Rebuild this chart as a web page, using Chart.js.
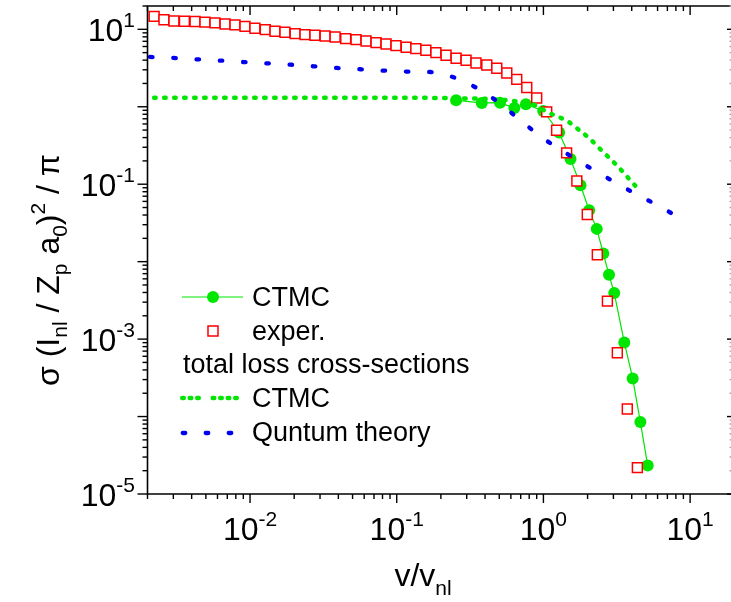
<!DOCTYPE html>
<html>
<head>
<meta charset="utf-8">
<script src="https://cdn.jsdelivr.net/npm/chart.js@4.4.0/dist/chart.umd.min.js"></script>
<style>
  body { margin: 0; background: #fff; }
  canvas { display: block; }
</style>
</head>
<body>
<canvas id="chart" width="731" height="602"></canvas>
<script>
// experimental points (open squares)
const experX = [0.00222, 0.00259, 0.00303, 0.00357, 0.00422, 0.00493, 0.00577, 0.00676, 0.00790, 0.00924,
  0.0108, 0.0127, 0.0148, 0.0173, 0.0203, 0.0237, 0.0277, 0.0325, 0.0380, 0.0449,
  0.0528, 0.0618, 0.0723, 0.0846, 0.0989, 0.116, 0.135, 0.158, 0.185, 0.217,
  0.254, 0.297, 0.347, 0.411, 0.481, 0.563, 0.658, 0.770, 0.900, 1.053,
  1.23, 1.44, 1.69, 1.99, 2.33, 2.73, 3.19, 3.73, 4.37];
const experY = [14.7, 13.3, 12.8, 12.7, 12.6, 12.4, 12.1, 11.7, 11.4, 10.9,
  10.3, 9.9, 9.42, 9.15, 8.81, 8.55, 8.37, 8.20, 7.96, 7.59,
  7.36, 7.06, 6.73, 6.45, 6.16, 5.86, 5.64, 5.36, 5.00, 4.62,
  4.23, 3.98, 3.67, 3.46, 3.14, 2.73, 2.26, 1.77, 1.30, 0.858,
  0.498, 0.254, 0.110, 0.0407, 0.0123, 0.00309, 0.000666, 0.000125, 0.0000219];

// CTMC (circles + thin line)
const ctmcX = [0.254, 0.380, 0.506, 0.634, 0.760, 0.997, 1.28, 1.53, 1.79, 2.05, 2.31, 2.56, 2.80, 3.04, 3.56, 4.06, 4.58, 5.14];
const ctmcY = [1.21, 1.12, 1.13, 0.964, 1.08, 0.883, 0.465, 0.212, 0.0970, 0.0461, 0.0265, 0.01274, 0.00676, 0.00393, 0.000906, 0.000311, 0.0000849, 0.0000234];

// total loss cross-sections, CTMC (green dots)
const totalX = [0.00222, 0.01, 0.1, 0.3, 0.5, 0.7, 0.9, 1.05, 1.27, 1.48, 1.73, 2.03, 2.37, 2.77, 3.24, 3.79, 4.37];
const totalY = [1.31, 1.31, 1.31, 1.28, 1.24, 1.15, 1.03, 0.86, 0.74, 0.64, 0.51, 0.40, 0.30, 0.225, 0.167, 0.120, 0.0895];

// total loss cross-sections, quantum theory (blue dots)
const quantX = [0.00208, 0.00300, 0.00433, 0.00625, 0.00900, 0.0130, 0.0188, 0.0270, 0.0390, 0.0562, 0.0811, 0.117,
  0.169, 0.241, 0.347, 0.500, 0.722, 1.04, 1.50, 2.17, 3.13, 4.51, 6.50, 9.37];
const quantY = [4.40, 4.27, 4.10, 3.95, 3.78, 3.64, 3.50, 3.33, 3.17, 3.05, 2.93, 2.84,
  2.81, 2.42, 1.77, 1.12, 0.631, 0.370, 0.237, 0.155, 0.104, 0.0707, 0.0494, 0.0321];

// tick label exponents
const xTickExp = [-2, -1, 0, 1];
const yTickExp = [1, -1, -3, -5];

const GREEN = '#00e600';
const RED = '#ff0000';
const BLUE = '#0000ee';
const FONT = '"Liberation Sans", Arial, sans-serif';

function pts(xs, ys) {
  return xs.map((v, i) => ({ x: v, y: ys[i] }));
}

// draws text made of pieces [text, size, dy]
function drawRich(ctx, parts, x, y, align) {
  let w = 0;
  parts.forEach(p => {
    ctx.font = p[1] + 'px ' + FONT;
    w += ctx.measureText(p[0]).width;
  });
  let cx = align === 'right' ? x - w : (align === 'center' ? x - w / 2 : x);
  ctx.textAlign = 'left';
  ctx.textBaseline = 'alphabetic';
  parts.forEach(p => {
    ctx.font = p[1] + 'px ' + FONT;
    ctx.fillText(p[0], cx, y + (p[2] || 0));
    cx += ctx.measureText(p[0]).width;
  });
}

function dots(ctx, xs, y, color, len, width) {
  ctx.strokeStyle = color;
  ctx.lineWidth = width;
  ctx.lineCap = 'round';
  xs.forEach(px => {
    ctx.beginPath();
    ctx.moveTo(px - len / 2, y);
    ctx.lineTo(px + len / 2, y);
    ctx.stroke();
  });
}

const frame = {
  id: 'frame',
  afterDraw(chart) {
    const { ctx, chartArea: a, scales: { x, y } } = chart;
    ctx.save();
    ctx.strokeStyle = '#000';
    ctx.lineWidth = 1.6;
    ctx.lineCap = 'butt';
    ctx.beginPath();
    ctx.moveTo(a.right + 2, a.top);
    ctx.lineTo(a.left, a.top);
    ctx.lineTo(a.left, a.bottom);
    ctx.lineTo(a.right + 2, a.bottom);
    ctx.stroke();

    // x ticks: outward at bottom, inward at top
    ctx.lineWidth = 1.4;
    for (let e = -3; e <= 1; e++) {
      for (let m = 1; m <= 9; m++) {
        const v = m * Math.pow(10, e);
        if (v < x.min * 0.999 || v > x.max) continue;
        const px = x.getPixelForValue(v);
        const len = m === 1 ? 9 : 5;
        ctx.beginPath();
        ctx.moveTo(px, a.bottom);
        ctx.lineTo(px, a.bottom + len);
        ctx.moveTo(px, a.top);
        ctx.lineTo(px, a.top + len);
        ctx.stroke();
      }
    }
    // y ticks: outward at left, inward at right
    for (let e = -5; e <= 1; e++) {
      for (let m = 1; m <= 9; m++) {
        const v = m * Math.pow(10, e);
        if (v < y.min * 0.999 || v > y.max * 1.001) continue;
        const py = y.getPixelForValue(v);
        ctx.strokeStyle = '#000';
        ctx.beginPath();
        ctx.moveTo(a.left, py);
        ctx.lineTo(a.left - (m === 1 ? 10 : 5), py);
        ctx.stroke();
        ctx.strokeStyle = m === 1 ? '#000' : '#aaa';
        ctx.beginPath();
        ctx.moveTo(731, py);
        ctx.lineTo(731 - (m === 1 ? 4 : 1.5), py);
        ctx.stroke();
      }
    }

    // tick labels
    ctx.fillStyle = '#000';
    xTickExp.forEach(e => {
      drawRich(ctx, [['10', 32, 0], [String(e), 21, -14]], x.getPixelForValue(Math.pow(10, e)), 540, 'center');
    });
    yTickExp.forEach(e => {
      drawRich(ctx, [['10', 32, 0], [String(e), 21, -14]], 135, y.getPixelForValue(Math.pow(10, e)) + 11.5, 'right');
    });

    // axis titles
    drawRich(ctx, [['v/v', 32, 0], ['nl', 21, 9]], 423, 586, 'center');
    ctx.save();
    ctx.translate(59, 270);
    ctx.rotate(-Math.PI / 2);
    drawRich(ctx, [['\u03c3 (I', 32, 0], ['nl', 21, 8], [' / Z', 32, 0], ['p', 21, 8], [' a', 32, 0], ['0', 21, 8],
      [')', 32, 0], ['2', 21, -14], [' / \u03c0', 32, 0]], 0, 0, 'center');
    ctx.restore();

    // legend
    ctx.strokeStyle = GREEN;
    ctx.lineWidth = 1.2;
    ctx.beginPath();
    ctx.moveTo(182, 297);
    ctx.lineTo(243, 297);
    ctx.stroke();
    ctx.fillStyle = GREEN;
    ctx.beginPath();
    ctx.arc(213, 297, 6, 0, Math.PI * 2);
    ctx.fill();

    ctx.fillStyle = '#fff';
    ctx.fillRect(208, 326, 10, 10);
    ctx.strokeStyle = RED;
    ctx.lineWidth = 1.5;
    ctx.strokeRect(208, 326, 10, 10);

    dots(ctx, [183, 190.5, 198, 213.5, 221, 228.5, 236], 398, GREEN, 1.5, 4.5);
    dots(ctx, [184, 207, 230], 433, BLUE, 2.5, 4.3);

    ctx.fillStyle = '#000';
    ctx.font = '27px ' + FONT;
    ctx.textAlign = 'left';
    ctx.fillText('CTMC', 252, 306);
    ctx.fillText('exper.', 252, 340);
    ctx.fillText('total loss cross-sections', 183, 373);
    ctx.fillText('CTMC', 252, 407);
    ctx.fillText('Quntum theory', 252, 441);
    ctx.restore();
  }
};

new Chart(document.getElementById('chart'), {
  type: 'line',
  data: {
    datasets: [
      {
        label: 'Quntum theory',
        data: pts(quantX, quantY),
        borderColor: BLUE,
        borderWidth: 4.3,
        borderDash: [2.5, 20.8],
        borderCapStyle: 'round',
        pointRadius: 0,
        cubicInterpolationMode: 'monotone',
        fill: false
      },
      {
        label: 'CTMC total',
        data: pts(totalX, totalY),
        borderColor: GREEN,
        borderWidth: 4.5,
        borderDash: [1.5, 8.5],
        borderCapStyle: 'round',
        pointRadius: 0,
        cubicInterpolationMode: 'monotone',
        fill: false
      },
      {
        label: 'exper.',
        data: pts(experX, experY),
        showLine: false,
        pointStyle: 'rect',
        pointRadius: 7,
        pointBorderColor: RED,
        pointBackgroundColor: '#fff',
        pointBorderWidth: 1.5
      },
      {
        label: 'CTMC',
        data: pts(ctmcX, ctmcY),
        borderColor: GREEN,
        borderWidth: 1.2,
        pointRadius: 6,
        pointBackgroundColor: GREEN,
        pointBorderColor: GREEN,
        pointBorderWidth: 0,
        tension: 0,
        fill: false
      }
    ]
  },
  options: {
    responsive: false,
    animation: false,
    devicePixelRatio: 1,
    events: [],
    layout: { padding: { top: 6, right: 0, left: 0, bottom: 0 }, autoPadding: false },
    plugins: { legend: { display: false }, tooltip: { enabled: false } },
    scales: {
      x: {
        type: 'logarithmic', min: 0.002, max: 19,
        ticks: { display: false }, grid: { display: false }, border: { display: false },
        afterFit: s => { s.height = 108; }
      },
      y: {
        type: 'logarithmic', min: 1e-5, max: 20,
        ticks: { display: false }, grid: { display: false }, border: { display: false },
        afterFit: s => { s.width = 147.5; }
      }
    }
  },
  plugins: [frame]
});
</script>
</body>
</html>
